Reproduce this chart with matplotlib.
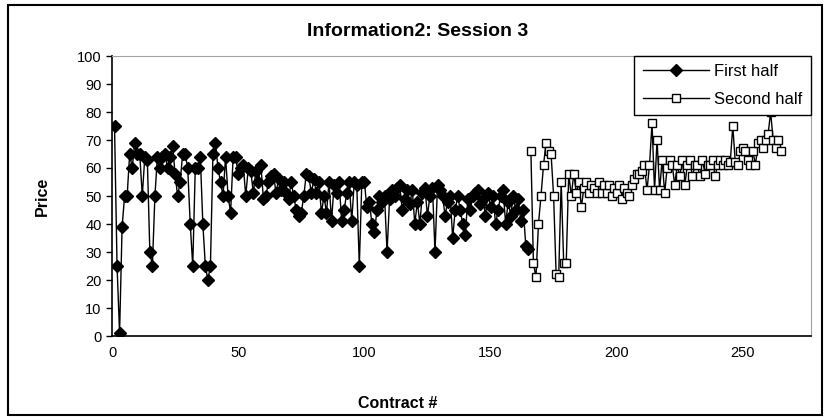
import matplotlib.pyplot as plt
import matplotlib.patches as patches
import numpy as np

plt.rcParams['font.family'] = ['Liberation Sans', 'DejaVu Sans']

# first half prices, contracts 1..165
first_half = [75, 25, 1, 39, 50, 50, 65, 60, 69, 65, 65, 50, 64, 63, 30, 25, 50, 64, 60, 64,
              65, 60, 64, 68, 58, 50, 55, 65, 65, 60, 40, 25, 60, 60, 64, 40, 25, 20, 25, 65,
              69, 60, 55, 50, 64, 50, 44, 64, 64, 58, 60, 61, 50, 60, 59, 51, 59, 55, 61, 49,
              50, 55, 57, 58, 51, 56, 52, 55, 51, 49, 55, 50, 45, 43, 44, 50, 58, 57, 51, 56,
              51, 55, 44, 50, 44, 55, 41, 54, 51, 55, 41, 45, 51, 55, 41, 55, 54, 25, 55, 55,
              46, 48, 40, 37, 45, 50, 48, 50, 30, 49, 52, 50, 53, 54, 45, 49, 52, 47, 52, 40,
              48, 40, 51, 53, 43, 50, 53, 30, 54, 52, 50, 43, 48, 50, 35, 45, 50, 45, 40, 36,
              49, 45, 50, 51, 52, 47, 49, 43, 51, 46, 50, 40, 45, 50, 52, 40, 48, 43, 50, 45,
              49, 41, 45, 32, 31]

# second half prices, contracts 166..265
second_half = [66, 26, 21, 40, 50, 61, 69, 66, 65, 50, 22, 21, 55, 26, 26, 58, 50, 58, 51, 55,
               46, 53, 55, 51, 54, 53, 51, 55, 51, 54, 51, 54, 50, 53, 51, 54, 49, 53, 51, 50,
               54, 56, 58, 58, 59, 61, 52, 61, 76, 52, 70, 52, 63, 51, 60, 63, 61, 54, 61, 57,
               63, 54, 61, 63, 57, 61, 61, 57, 63, 58, 61, 61, 63, 57, 61, 63, 61, 63, 61, 62,
               75, 62, 61, 66, 67, 66, 63, 61, 66, 61, 69, 70, 67, 70, 72, 80, 70, 67, 70, 66]

x1 = np.arange(1, len(first_half) + 1)
x2 = np.arange(len(first_half) + 1, len(first_half) + len(second_half) + 1)

fig = plt.figure(figsize=(8.3, 4.2), dpi=100)
ax = fig.add_axes([112/830, 84/420, 699/830, 280/420])

ax.plot(x1, first_half, '-', color='black', lw=1, marker='D', markersize=6,
        markerfacecolor='black', markeredgecolor='black', label='First half')
ax.plot(x2, second_half, '-', color='black', lw=1, marker='s', markersize=6,
        markerfacecolor='white', markeredgecolor='black', markeredgewidth=1,
        label='Second half')

ax.set_xlim(0, 277)
ax.set_ylim(0, 100)
ax.set_yticks(np.arange(0, 101, 10))
ax.set_xticks(np.arange(0, 251, 50))
ax.tick_params(axis='both', labelsize=10.5, direction='out', length=4, width=1)
ax.tick_params(axis='x', length=0, pad=7)

for s in ['top', 'right']:
    ax.spines[s].set_color('#a0a0a0')
for s in ['left', 'bottom']:
    ax.spines[s].set_color('black')
    ax.spines[s].set_linewidth(1.2)

fig.text(418/830, 1 - 32/420, 'Information2: Session 3', fontsize=14, fontweight='bold',
         ha='center', va='center')
fig.text(42/830, 1 - 196/420, 'Price', fontsize=11.5, fontweight='bold',
         ha='center', va='center', rotation=90)
fig.text(398/830, 1 - 404/420, 'Contract #', fontsize=11.5, fontweight='bold',
         ha='center', va='center')

leg = ax.legend(loc='upper right', borderaxespad=0, fancybox=False, edgecolor='black',
                fontsize=12, handlelength=4.0, framealpha=1, borderpad=0.5, labelspacing=0.75,
                handletextpad=0.3)
leg.get_frame().set_linewidth(1)

fig.patches.append(patches.Rectangle((8/830, 5/420), 814/830, 410/420, transform=fig.transFigure,
                                     fill=False, edgecolor='black', lw=1.5))

fig.savefig('out.png', dpi=100)
